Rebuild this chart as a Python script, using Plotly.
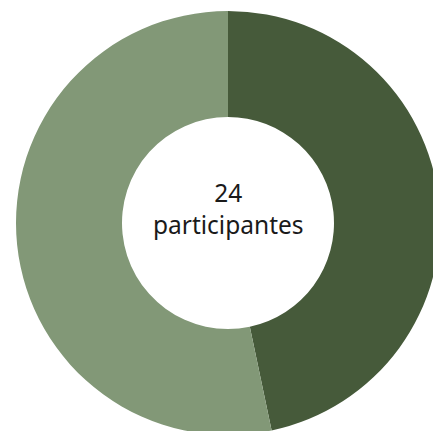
import plotly.graph_objects as go

labels = ["Grupo A", "Grupo B"]
values = [46.7, 53.3]
colors = ["#465a3a", "#829877"]
center_text = "24<br>participantes"

fig = go.Figure(go.Pie(
    labels=labels,
    values=values,
    hole=0.5,
    sort=False,
    direction="clockwise",
    rotation=0,
    textinfo="none",
    hoverinfo="label+percent",
    marker=dict(colors=colors, line=dict(width=0)),
    showlegend=False,
))

fig.add_annotation(
    x=0.5, y=0.5, xref="paper", yref="paper",
    text=center_text, showarrow=False, yshift=15,
    font=dict(family="Noto Sans", size=24.5, color="#1a1a1a"),
    align="center",
)

fig.update_layout(
    width=440, height=435, autosize=False,
    margin=dict(l=16, r=0, t=11, b=0),
    paper_bgcolor="white", plot_bgcolor="white",
)

fig.write_html("out.html", config={"displayModeBar": False},
               post_script="document.body.style.overflow='hidden';document.documentElement.style.overflow='hidden';document.body.style.margin='0';")
